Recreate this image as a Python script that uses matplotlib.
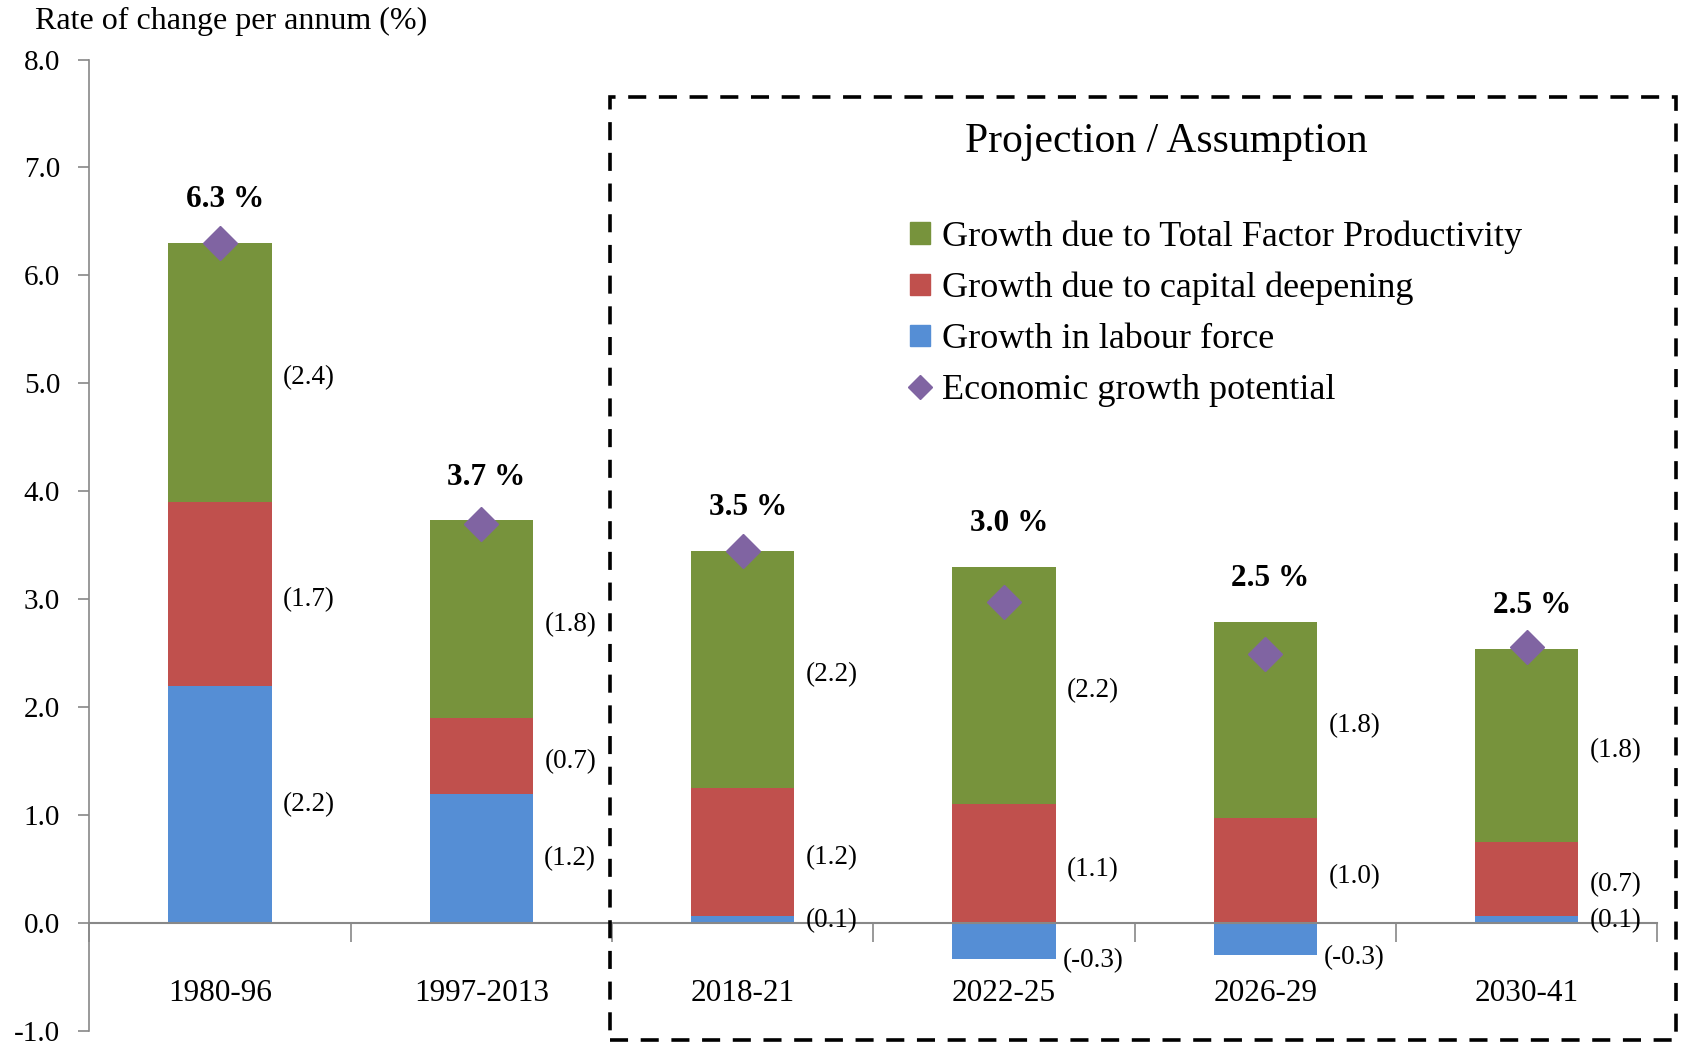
import matplotlib.pyplot as plt
import numpy as np
from matplotlib.patches import Rectangle, Patch
from matplotlib.lines import Line2D

plt.rcParams['font.family'] = ['Liberation Serif', 'DejaVu Serif']

periods = ['1980-96', '1997-2013', '2018-21', '2022-25', '2026-29', '2030-41']
labour = [2.2, 1.2, 0.07, -0.33, -0.30, 0.07]
capital = [1.7, 0.7, 1.18, 1.10, 0.97, 0.68]
tfp = [2.4, 1.83, 2.20, 2.20, 1.82, 1.79]
potential = [6.3, 3.7, 3.45, 2.97, 2.49, 2.56]

labour_lbl = ['(2.2)', '(1.2)', '(0.1)', '(-0.3)', '(-0.3)', '(0.1)']
capital_lbl = ['(1.7)', '(0.7)', '(1.2)', '(1.1)', '(1.0)', '(0.7)']
tfp_lbl = ['(2.4)', '(1.8)', '(2.2)', '(2.2)', '(1.8)', '(1.8)']
potential_lbl = ['6.3 %', '3.7 %', '3.5 %', '3.0 %', '2.5 %', '2.5 %']

c_tfp = '#77933C'
c_cap = '#C0504D'
c_lab = '#558ED5'
c_pot = '#8064A2'

fig = plt.figure(figsize=(16.86, 10.44), dpi=100)
ax = fig.add_axes([0.053, 0.0124, 0.930, 0.9306])

x = np.arange(len(periods))
w = 0.395
lab = np.array(labour)
cap = np.array(capital)
tf = np.array(tfp)
base = np.where(lab > 0, lab, 0)

ax.bar(x, lab, w, color=c_lab, zorder=2)
ax.bar(x, cap, w, bottom=base, color=c_cap, zorder=2)
ax.bar(x, tf, w, bottom=base + cap, color=c_tfp, zorder=2)
ax.plot(x, potential, 'D', color=c_pot, markersize=17, zorder=3)

dx = 0.34
for i in range(len(x)):
    ax.text(x[i] + dx, lab[i] / 2 if abs(lab[i]) > 0.5 else lab[i] - 0.02 if lab[i] < 0 else 0.02,
            labour_lbl[i], ha='center', va='center', fontsize=19.5)
    ax.text(x[i] + dx, base[i] + cap[i] / 2 - 0.05, capital_lbl[i], ha='center', va='center', fontsize=19.5)
    ax.text(x[i] + dx, base[i] + cap[i] + tf[i] / 2 - 0.05, tfp_lbl[i], ha='center', va='center', fontsize=19.5)
    top = base[i] + cap[i] + tf[i]
    ax.text(x[i] + 0.02, top + 0.4, potential_lbl[i], ha='center', va='center',
            fontsize=22.5, fontweight='bold')
    ax.text(x[i], -0.65, periods[i], ha='center', va='center', fontsize=22.5)

ax.set_xlim(-0.5, 5.5)
ax.set_ylim(-1.0, 8.0)
ax.set_yticks(np.arange(-1, 9, 1))
ax.set_yticklabels([f'{v:.1f}' for v in np.arange(-1, 9, 1)], fontsize=21)
ax.set_xticks(np.arange(-0.5, 6, 1))
ax.set_xticklabels([])
ax.tick_params(axis='x', direction='out', length=14, color='#888888', width=1.2)
ax.tick_params(axis='y', direction='out', length=8, color='#888888', width=1.2, pad=13)

for s in ['top', 'right']:
    ax.spines[s].set_visible(False)
ax.spines['bottom'].set_position(('data', 0))
ax.spines['bottom'].set_color('#888888')
ax.spines['left'].set_color('#888888')
ax.spines['bottom'].set_linewidth(1.5)
ax.spines['left'].set_linewidth(1.2)

fig.text(0.021, 0.979, 'Rate of change per annum (%)', fontsize=23, ha='left', va='center')

# dashed projection box
fig.patches.append(Rectangle((0.362, 0.004), 0.632, 0.903, transform=fig.transFigure,
                             fill=False, edgecolor='black', linewidth=2.6,
                             linestyle=(0, (5, 3.5)), zorder=5))
fig.text(0.6915, 0.864, 'Projection / Assumption', fontsize=30, ha='center', va='center')

handles = [Patch(color=c_tfp), Patch(color=c_cap), Patch(color=c_lab),
           Line2D([], [], marker='D', color=c_pot, linestyle='none', markersize=12)]
names = ['Growth due to Total Factor Productivity', 'Growth due to capital deepening',
         'Growth in labour force', 'Economic growth potential']
fig.legend(handles, names, loc='upper left', bbox_to_anchor=(0.531, 0.803),
           frameon=False, fontsize=26, handlelength=0.55, handleheight=0.55,
           handletextpad=0.35, labelspacing=0.5, borderaxespad=0)

fig.savefig('out.png', dpi=100)
